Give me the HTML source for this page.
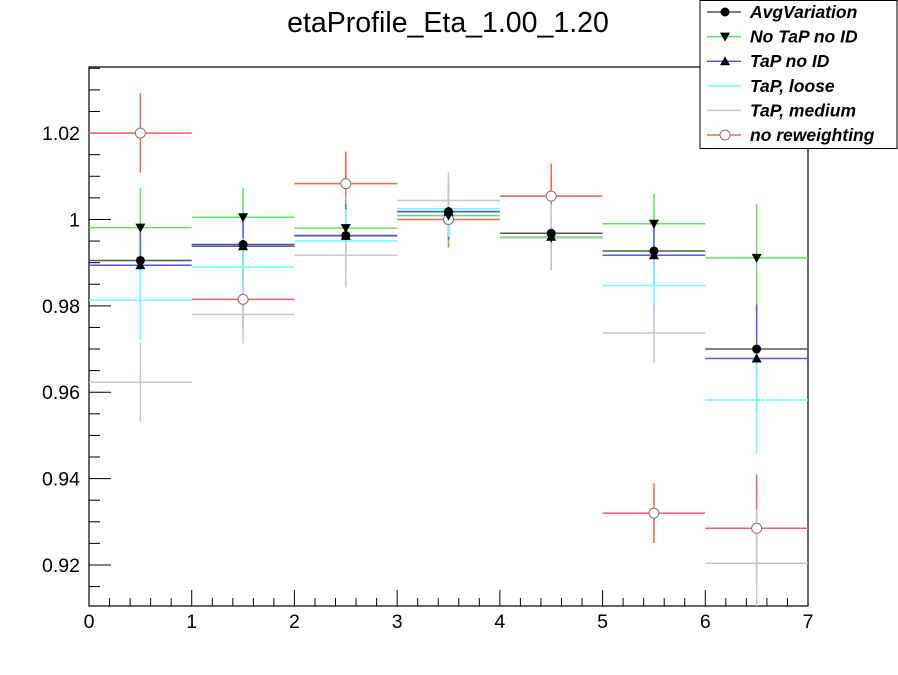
<!DOCTYPE html>
<html><head><meta charset="utf-8"><style>
body{margin:0;background:#fff;}
svg{display:block;font-family:"Liberation Sans",sans-serif;}
</style></head><body>
<svg id="c" width="898" height="675" viewBox="0 0 898 675">
<text x="448" y="32" font-size="28.5" text-anchor="middle">etaProfile_Eta_1.00_1.20</text>
<g id="axes"></g>
<g id="series"></g>
<g id="legend"></g>
</svg>
<script>
const binEdges=[0,1,2,3,4,5,6,7];
const yTicks=[0.92,0.94,0.96,0.98,1.00,1.02];
const yTickLabels=["0.92","0.94","0.96","0.98","1","1.02"];
const xTickLabels=["0","1","2","3","4","5","6","7"];
const mediumVals=[0.9623,0.978,0.9917,1.0044,0.996,0.9737,0.9204];
const looseVals=[0.9813,0.989,0.995,1.0025,0.996,0.9847,0.9582];
const norewVals=[1.020,0.9815,1.0083,1.0000,1.0054,0.932,0.9285];
const tapVals=[0.9894,0.9938,0.9962,1.0018,0.996,0.9917,0.9678];
const notapVals=[0.9981,1.0005,0.998,1.0009,0.9958,0.999,0.9911];
const avgVals=[0.9905,0.9942,0.9963,1.0018,0.9968,0.9927,0.970];
const errVals=[0.0092,0.0067,0.0074,0.0065,0.0075,0.0069,0.0125];
const NS="http://www.w3.org/2000/svg";
const X0=89,X1=808,Y0=67,Y1=606,vMin=0.9105,vMax=1.0353;
const xs=v=>X0+(v-binEdges[0])/(binEdges[binEdges.length-1]-binEdges[0])*(X1-X0);
const ys=v=>Y1-(v-vMin)/(vMax-vMin)*(Y1-Y0);
function mk(tag,attrs,parent){const e=document.createElementNS(NS,tag);for(const k in attrs)e.setAttribute(k,attrs[k]);parent.appendChild(e);return e;}
const axes=document.getElementById('axes');
let fr=mk('rect',{x:X0,y:Y0,width:X1-X0,height:Y1-Y0,fill:'none',stroke:'#000','stroke-width':1.2},axes);


for(let k=182;k<=207;k++){const v=k*0.005;const y=ys(v);if(y<Y0||y>Y1)continue;const major=(k%4)===0;
 let t=mk('line',{x1:X0,x2:X0+(major?22:11),y1:y,y2:y,stroke:'#000','stroke-width':1},axes);
 
 }
yTicks.forEach((v,i)=>{let t=mk('text',{x:80,y:ys(v)+7,'font-size':19.5,'text-anchor':'end'},axes);t.textContent=yTickLabels[i];
 
 });
for(let k=0;k<=35;k++){const v=k*0.2;const x=xs(v);const major=k%5===0;
 let t=mk('line',{x1:x,x2:x,y1:Y1,y2:Y1-(major?16:8),stroke:'#000','stroke-width':1},axes);
 
 }
xTickLabels.forEach((l,i)=>{let t=mk('text',{x:xs(binEdges[i]),y:628,'font-size':19.5,'text-anchor':'middle'},axes);t.textContent=l;
 
 });
const styles={"AvgVariation":{c:'#555',vals:avgVals,m:'circle',noErr:true},"No TaP no ID":{c:'#55e855',vals:notapVals,m:'down'},"TaP no ID":{c:'#5555ff',vals:tapVals,m:'up'},"TaP, loose":{c:'#66ffff',vals:looseVals,m:null},"TaP, medium":{c:'#c4c4d6',vals:mediumVals,m:null},"no reweighting":{c:'#ff5a5a',vals:norewVals,m:'open'}};
function marker(g,type,x,y){
 if(type==='circle')return mk('circle',{cx:x,cy:y,r:4.5,fill:'#000'},g);
 if(type==='open')return mk('circle',{cx:x,cy:y,r:5,fill:'#fff',stroke:'#777','stroke-width':1},g);
 if(type==='down')return mk('polygon',{points:`${x-5},${y-4} ${x+5},${y-4} ${x},${y+5}`,fill:'#000'},g);
 if(type==='up')return mk('polygon',{points:`${x-5},${y+4} ${x+5},${y+4} ${x},${y-5}`,fill:'#000'},g);
}
const sg=document.getElementById('series');
const order=["no reweighting","AvgVariation","No TaP no ID","TaP no ID","TaP, loose","TaP, medium"];
order.forEach(n=>{const s=styles[n];const g=mk('g',{},sg);
 
 
 s.vals.forEach((v,i)=>{const xa=xs(binEdges[i]),xb=xs(binEdges[i+1]),xc=(xa+xb)/2,y=ys(v);
  mk('line',{x1:xa,x2:xb,y1:y,y2:y,stroke:s.c,'stroke-width':1.5},g);
  if(!s.noErr)mk('line',{x1:xc,x2:xc,y1:Math.max(Y0,ys(v+errVals[i])),y2:Math.min(Y1,ys(v-errVals[i])),stroke:s.c,'stroke-width':1.5},g);
 });
});
order.forEach(n=>{const s=styles[n];if(!s.m)return;const g=mk('g',{},sg);
 
 
 s.vals.forEach((v,i)=>{const xc=(xs(binEdges[i])+xs(binEdges[i+1]))/2;marker(g,s.m,xc,ys(v));});
});
const lg=document.getElementById('legend');
let lb=mk('rect',{x:700,y:0.5,width:197,height:148,fill:'#fff',stroke:'#000','stroke-width':1},lg);


const legOrder=["AvgVariation","No TaP no ID","TaP no ID","TaP, loose","TaP, medium","no reweighting"];
legOrder.forEach((n,i)=>{const s=styles[n];const y=12+i*24.6;const g=mk('g',{},lg);
 
 
 mk('line',{x1:707,x2:741,y1:y,y2:y,stroke:s.c,'stroke-width':1.5},g);
 if(s.m)marker(g,s.m,725,y);
 const t=mk('text',{x:750,y:y+6,'font-size':17.5,'font-weight':'bold','font-style':'italic'},g);t.textContent=n;
});
</script>
</body></html>
